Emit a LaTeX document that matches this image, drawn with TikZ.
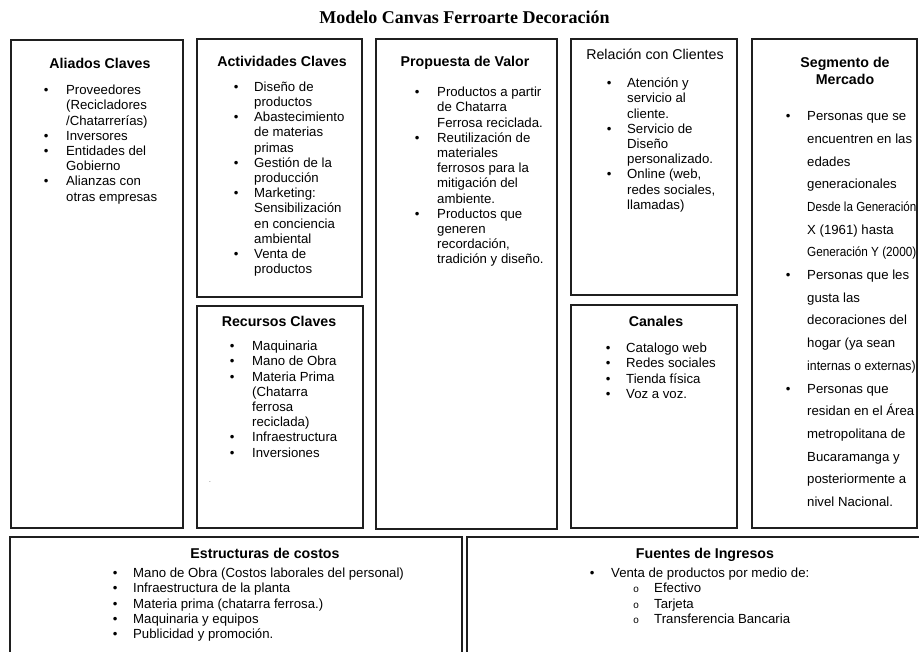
\documentclass[tikz,border=0pt]{standalone}
\usepackage{fontspec}
\setmainfont{Liberation Sans}
\newfontfamily\titlefont{Liberation Serif}
\newfontfamily\subbfont{Liberation Mono}
\usepackage{array}
\usepackage{graphicx}
\newcommand{\bodyfs}{\fontsize{13.2}{15.2}\selectfont}
\newcommand{\segfs}{\fontsize{13.2}{22.7}\selectfont}
\newcommand{\headfs}{\fontsize{14.2}{16.4}\selectfont\bfseries}
\newcommand{\headrg}{\fontsize{14.2}{16.4}\selectfont}
\newcommand{\subb}{\makebox[21pt][l]{\subbfont\fontsize{10}{10}\selectfont o}}
\newcommand{\narrowline}[2]{\scalebox{#1}[1]{#2}}
\tikzset{
  box/.style={draw=black!88, line width=1.6pt},
  head/.style={anchor=base, inner sep=0pt, font=\headfs},
  lst/.style={anchor=north west, inner sep=0pt, font=\bodyfs},
  seglst/.style={anchor=north west, inner sep=0pt, font=\segfs},
}
\begin{document}
\begin{tikzpicture}[x=1pt,y=-1pt]
\useasboundingbox (0,0) rectangle (919,652);
\clip (0,0) rectangle (919,652);
\fill[white] (0,0) rectangle (919,652);

% title
\node[anchor=base, inner sep=0pt, font={\titlefont\fontsize{18}{20}\selectfont\bfseries}] (title) at (464.5,24) {Modelo Canvas Ferroarte Decoración};

% boxes
\draw[box] (11,40) rectangle (183,528);
\draw[box] (197,39) rectangle (362,297);
\draw[box] (197,306) rectangle (363,528);
\draw[box] (376,39) rectangle (557,529);
\draw[box] (571,39) rectangle (737,295);
\draw[box] (571,305) rectangle (737,528);
\draw[box] (752,39) rectangle (917,528);
\draw[box] (10,537) rectangle (462,680);
\draw[box] (467,537) rectangle (940,680);

% Aliados
\node[head] (h1) at (100,69) {Aliados Claves};
\node[lst] (l1) at (43.7,83.9) {\begin{tabular}{@{}p{22.3pt}@{}l@{}}
• & Proveedores\\
  & (Recicladores\\
  & /Chatarrerías)\\
• & Inversores\\
• & Entidades del\\
  & Gobierno\\
• & Alianzas con\\
  & otras empresas
\end{tabular}};

% Actividades
\node[head] (h2) at (282,67) {Actividades Claves};
\node[lst] (l2) at (233.7,80.4) {\begin{tabular}{@{}p{20.3pt}@{}l@{}}
• & Diseño de\\
  & productos\\
• & Abastecimiento\\
  & de materias\\
  & primas\\
• & Gestión de la\\
  & producción\\
• & Marketing:\\
  & Sensibilización\\
  & en conciencia\\
  & ambiental\\
• & Venta de\\
  & productos
\end{tabular}};

% Recursos
\node[head] (h3) at (279,327) {Recursos Claves};
\node[lst] (l3) at (229.7,339.9) {\begin{tabular}{@{}p{22.3pt}@{}l@{}}
• & Maquinaria\\
• & Mano de Obra\\
• & Materia Prima\\
  & (Chatarra\\
  & ferrosa\\
  & reciclada)\\
• & Infraestructura\\
• & Inversiones
\end{tabular}};
\node[inner sep=0pt, font=\fontsize{8}{8}\selectfont, text=gray] (speck) at (210,482) {.};

% Propuesta
\node[head] (h4) at (465,67) {Propuesta de Valor};
\node[lst] (l4) at (414.7,85.9) {\begin{tabular}{@{}p{22.3pt}@{}l@{}}
• & Productos a partir\\
  & de Chatarra\\
  & Ferrosa reciclada.\\
• & Reutilización de\\
  & materiales\\
  & ferrosos para la\\
  & mitigación del\\
  & ambiente.\\
• & Productos que\\
  & generen\\
  & recordación,\\
  & tradición y diseño.
\end{tabular}};

% Relacion
\node[anchor=base, inner sep=0pt, font=\headrg] (h5) at (655,60) {Relación con Clientes};
\node[lst] (l5) at (606.7,76.9) {\begin{tabular}{@{}p{20.3pt}@{}l@{}}
• & Atención y\\
  & servicio al\\
  & cliente.\\
• & Servicio de\\
  & Diseño\\
  & personalizado.\\
• & Online (web,\\
  & redes sociales,\\
  & llamadas)
\end{tabular}};

% Canales
\node[head] (h6) at (656,327) {Canales};
\node[lst] (l6) at (605.7,341.9) {\begin{tabular}{@{}p{20.3pt}@{}l@{}}
• & Catalogo web\\
• & Redes sociales\\
• & Tienda física\\
• & Voz a voz.
\end{tabular}};

% Segmento
\node[head] (h7a) at (845,68) {Segmento de};
\node[head] (h7b) at (845,85) {Mercado};
\node[seglst] (l7) at (785.7,104.6) {\begin{tabular}{@{}p{21.3pt}@{}l@{}}
• & Personas que se\\
  & encuentren en las\\
  & edades\\
  & generacionales\\
  & \narrowline{0.88}{Desde la Generación}\\
  & X (1961) hasta\\
  & \narrowline{0.89}{Generación Y (2000)}\\
• & Personas que les\\
  & gusta las\\
  & decoraciones del\\
  & hogar (ya sean\\
  & \narrowline{0.93}{internas o externas)}\\
• & Personas que\\
  & residan en el Área\\
  & metropolitana de\\
  & Bucaramanga y\\
  & posteriormente a\\
  & nivel Nacional.
\end{tabular}};

% Estructuras
\node[head] (h8) at (265,558) {Estructuras de costos};
\node[lst] (l8) at (112.7,566.9) {\begin{tabular}{@{}p{20.3pt}@{}l@{}}
• & Mano de Obra (Costos laborales del personal)\\
• & Infraestructura de la planta\\
• & Materia prima (chatarra ferrosa.)\\
• & Maquinaria y equipos\\
• & Publicidad y promoción.
\end{tabular}};

% Fuentes
\node[head] (h9) at (705,558) {Fuentes de Ingresos};
\node[lst] (l9) at (589.7,566.9) {\begin{tabular}{@{}p{21.3pt}@{}l@{}}
• & Venta de productos por medio de:\\
  & \hspace{22pt}\subb Efectivo\\
  & \hspace{22pt}\subb Tarjeta\\
  & \hspace{22pt}\subb Transferencia Bancaria
\end{tabular}};
\end{tikzpicture}
\end{document}
